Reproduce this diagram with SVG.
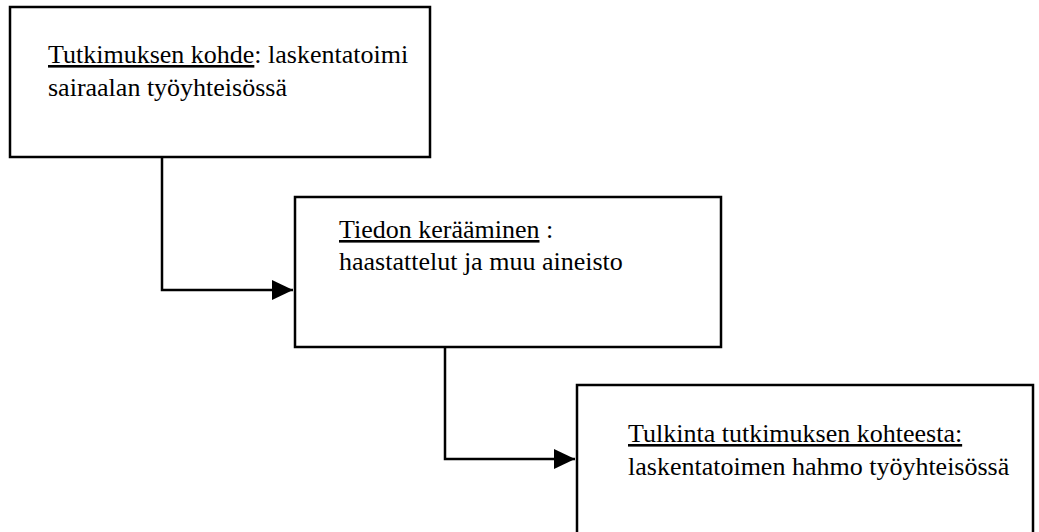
<svg xmlns="http://www.w3.org/2000/svg" width="1039" height="532" viewBox="0 0 1039 532">
<style>
.box{fill:#fff;stroke:#000;stroke-width:2.5}
.t{font-family:"Liberation Serif","Times New Roman","DejaVu Serif",serif;font-size:26px;fill:#000}
.u{text-decoration:underline}
.c{fill:none;stroke:#000;stroke-width:2.5}
</style>
<defs>
<marker id="ah" markerUnits="userSpaceOnUse" markerWidth="22" markerHeight="20" refX="21" refY="10" orient="auto">
<path d="M0,0 L21,10 L0,20 Z" fill="#000"/>
</marker>
</defs>
<rect width="1039" height="532" fill="#fff"/>
<g id="connectors">
<path class="c" d="M162,157 V290 H293" marker-end="url(#ah)"/>
<path class="c" d="M445,347 V459 H575" marker-end="url(#ah)"/>
</g>
<g id="node1">
<rect class="box" x="10" y="7" width="420" height="150"/>
<text class="t" x="48" y="63"><tspan class="u">Tutkimuksen kohde</tspan>: laskentatoimi</text>
<text class="t" x="48" y="96">sairaalan työyhteisössä</text>
</g>
<g id="node2">
<rect class="box" x="295" y="197" width="426" height="150"/>
<text class="t" x="339" y="238"><tspan class="u">Tiedon kerääminen</tspan> :</text>
<text class="t" x="339" y="270">haastattelut ja muu aineisto</text>
</g>
<g id="node3">
<rect class="box" x="577" y="385" width="456" height="160"/>
<text class="t" x="628" y="442"><tspan class="u">Tulkinta tutkimuksen kohteesta:</tspan></text>
<text class="t" x="628" y="475">laskentatoimen hahmo työyhteisössä</text>
</g>
</svg>
